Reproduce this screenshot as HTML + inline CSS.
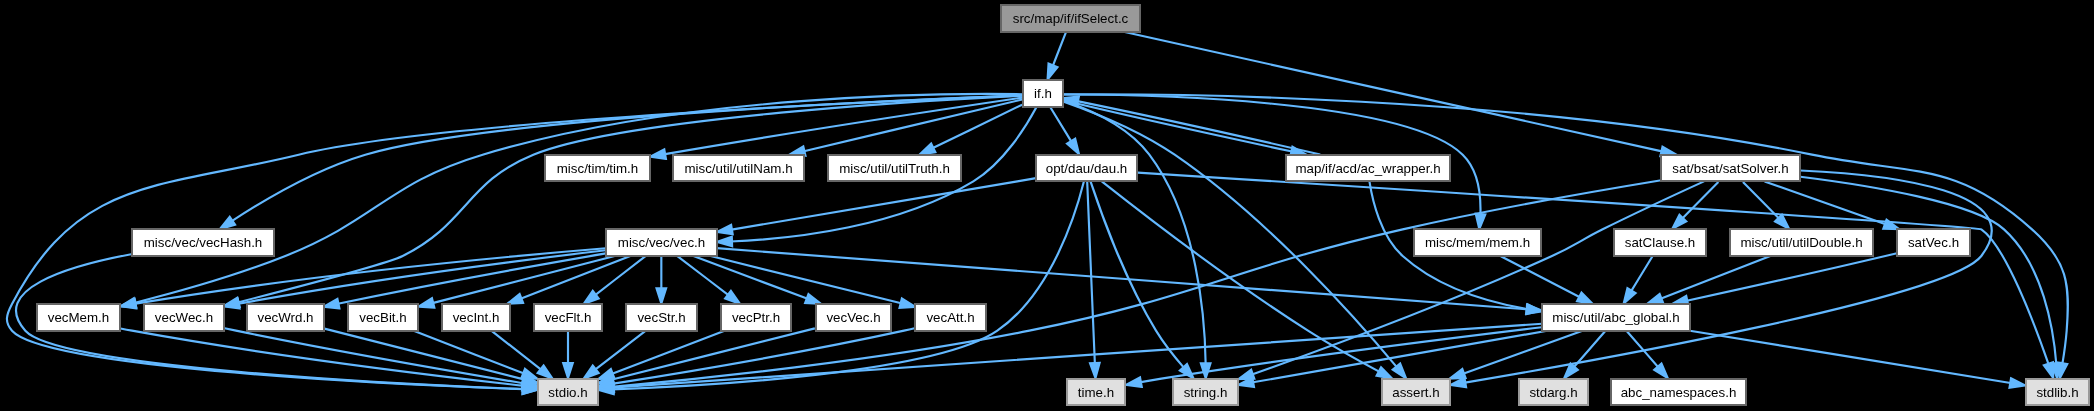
<!DOCTYPE html>
<html><head><meta charset="utf-8"><title>src/map/if/ifSelect.c include dependency graph</title>
<style>
html,body{margin:0;padding:0;background:#000;overflow:hidden}
svg{display:block;will-change:transform}
.e path{fill:none;stroke:#63b8ff;stroke-width:2.15}
.e polygon{fill:#63b8ff;stroke:#63b8ff;stroke-width:2;stroke-linejoin:miter}
.n rect{stroke-width:2;shape-rendering:crispEdges}
.n text{font-family:"Liberation Sans",sans-serif;font-size:13.33px;text-anchor:middle;fill:#000}
</style></head>
<body>
<svg width="2094" height="411" viewBox="0 0 2094 411">
<g class="e">
<path d="M1065.79,32.55C1062.09,42.04 1056.91,55.4 1052.37,67.04"/><polygon points="1057.61,67.09 1047.49,79.6 1048.48,63.53"/>
<path d="M1124.68,32C1244.36,58.6 1531.64,122.44 1663.03,151.64"/><polygon points="1662.47,146.5 1676.37,154.6 1660.34,156.06"/>
<path d="M1022.39,95.44C918.13,99.53 441.91,119.89 298.67,154.67 159.07,188.56 78.72,176.77 12,304 6.49,314.49 4.08,321.85 12,330.67 46.12,368.67 399.69,384.73 524.6,389.25"/><polygon points="522.84,384.28 537.99,389.72 522.49,394.08"/>
<path d="M1063.13,94.4C1152.77,93.65 1519.35,94.57 1812,154.67 1913.15,175.44 1955.17,160.35 2032,229.33 2067.41,261.13 2070.33,283.21 2066.67,330.67 2065.8,341.96 2064.01,354.33 2062.24,364.89"/><polygon points="2067.36,364.1 2059.83,378.32 2057.71,362.36"/>
<path d="M1062.91,100.52C1087.23,108.63 1127.47,125.65 1149.33,154.67 1197.6,218.72 1205.04,318.11 1205.69,364.79"/><polygon points="1210.59,363.13 1205.71,378.47 1200.79,363.13"/>
<path d="M1063.04,101.41C1089.99,110.88 1138.32,129.77 1174.67,154.67 1268.76,219.11 1359.27,321.95 1397.25,367.57"/><polygon points="1400.17,363.41 1406.15,378.37 1392.61,369.64"/>
<path d="M1036.51,107.03C1026.23,126.25 1003.69,163.01 973.33,181.33 898.6,226.44 797.05,238.71 730.39,241.49"/><polygon points="732.19,246.34 716.71,241.96 731.87,236.54"/>
<path d="M1022.31,94.2C948.19,93.03 686.43,93.73 482.67,154.67 388.21,182.91 376.95,219.57 285.33,256 235.05,276 175.52,292.57 133.29,303.19"/><polygon points="136.29,307.51 120.23,306.43 133.94,297.99"/>
<path d="M1022.39,95.61C939.24,99.68 624.6,117.32 533.33,154.67 465.32,182.51 468.4,223.13 402.67,256 387.73,263.47 296.55,287.39 236.73,302.68"/><polygon points="239.82,306.95 223.76,305.99 237.4,297.45"/>
<path d="M1062.83,94.53C1138.6,94.48 1404.91,98.37 1462.67,154.67 1478.69,170.28 1481.17,196.44 1480.36,215.95"/><polygon points="1485.41,214.38 1479.28,229.28 1475.64,213.59"/>
<path d="M1022.37,97.64C967.11,105.8 809.01,129.44 663.63,154.32"/><polygon points="666,158.89 650.05,156.65 664.33,149.23"/>
<path d="M1022.25,99.51C978.07,109.96 872.01,135.08 802.87,151.47"/><polygon points="805.6,155.85 789.56,154.61 803.34,146.31"/>
<path d="M1022.09,104.68C998.81,116 960.43,134.68 931.85,148.57"/><polygon points="935.45,152.28 919.51,154.57 931.16,143.46"/>
<path d="M1050.33,107.21C1056.32,117.01 1064.84,130.93 1072.11,142.84"/><polygon points="1075.28,138.62 1079.09,154.27 1066.92,143.73"/>
<path d="M1022.21,95.37C923.19,99 493.2,116.65 365.33,154.67 314.97,169.64 262.29,201.05 230.99,221.67"/><polygon points="235.16,224.76 219.71,229.24 229.7,216.62"/>
<path d="M1063.07,100.32C1108.45,111.29 1218.52,135.83 1293.31,151.79"/><polygon points="1292.4,146.58 1306.37,154.56 1290.36,156.17"/>
<path d="M716.79,248.19C875.93,260.19 1335.04,294.81 1528.45,309.4"/><polygon points="1526.98,304.38 1541.91,310.41 1526.26,314.15"/>
<path d="M630.32,256.05C600.11,267.79 553.92,285.73 519.95,298.93"/><polygon points="523.19,302.92 507.12,303.91 519.65,293.79"/>
<path d="M645.51,256.21C631.47,267.04 610.72,283.05 594.21,295.79"/><polygon points="598.74,298.48 583.6,303.96 592.75,290.73"/>
<path d="M661.33,256.55C661.33,265.73 661.33,278.53 661.33,289.91"/><polygon points="666.23,288.27 661.33,303.6 656.43,288.27"/>
<path d="M677.4,256.21C691.63,267.04 712.68,283.05 729.41,295.79"/><polygon points="730.94,290.79 740.17,303.96 725.01,298.59"/>
<path d="M693.47,256.05C724.89,267.84 773.04,285.89 808.28,299.11"/><polygon points="808.46,293.93 821.09,303.91 805.02,303.12"/>
<path d="M710.64,256.05C756.91,267.39 828.41,284.99 902.2,303.57"/><polygon points="901.84,298.42 915.51,306.92 899.44,307.92"/>
<path d="M605.91,253.35C543.68,264.04 439.41,282.53 336.64,303.99"/><polygon points="339.49,308.39 323.47,306.75 337.47,298.8"/>
<path d="M614.69,256.05C563.92,269.17 483.08,290.05 431.47,303.39"/><polygon points="434.45,307.69 418.37,306.77 432,298.19"/>
<path d="M605.81,248.29C511.47,256.04 313.65,274.13 133.96,303.88"/><polygon points="136.44,308.43 120.51,306.13 134.81,298.77"/>
<path d="M605.69,250.29C526.68,259.56 377.2,278.36 236.8,304.04"/><polygon points="239.65,308.51 223.68,306.47 237.86,298.86"/>
<path d="M1541.89,323.76C1338,337.76 773.13,376.57 611.64,387.67"/><polygon points="613.79,392.43 598.15,388.6 613.11,382.66"/>
<path d="M1689.87,330.72C1781.81,345.72 1935.97,370.87 2012.05,383.28"/><polygon points="2010.97,378.14 2025.32,385.44 2009.4,387.82"/>
<path d="M1547.27,330.72C1463.35,345.43 1323.73,369.91 1251.61,382.55"/><polygon points="1254.08,387.1 1238.13,384.92 1252.38,377.44"/>
<path d="M1582.52,330.72C1549.64,342.56 1499.2,360.72 1462.45,373.95"/><polygon points="1465.67,378 1449.59,378.57 1462.35,368.77"/>
<path d="M1541.81,327.29C1451.67,338.04 1295.04,357.57 1161.33,378.67 1154.25,379.79 1146.76,381.07 1139.47,382.36"/><polygon points="1141.84,386.91 1125.87,384.85 1140.07,377.28"/>
<path d="M1605.08,331.21C1596.28,341.32 1583.67,355.83 1573.09,367.97"/><polygon points="1577.89,369.93 1564.12,378.27 1570.5,363.49"/>
<path d="M1626.92,331.21C1635.72,341.32 1648.35,355.83 1658.91,367.97"/><polygon points="1661.5,363.49 1667.88,378.27 1654.11,369.93"/>
<path d="M491.61,330.88C505.31,341.6 525.51,357.41 541.69,370.08"/><polygon points="543.57,365.33 552.63,378.63 537.53,373.05"/>
<path d="M568,331.21C568,340.4 568,353.2 568,364.57"/><polygon points="572.9,362.93 568,378.27 563.1,362.93"/>
<path d="M645.51,330.88C631.47,341.71 610.72,357.72 594.21,370.45"/><polygon points="598.74,373.15 583.6,378.63 592.75,365.4"/>
<path d="M724.53,330.72C693.39,342.64 645.49,360.99 610.88,374.24"/><polygon points="614.39,378.14 598.32,379.05 610.89,369"/>
<path d="M814.85,328.37C761.84,341.75 666.64,365.77 611.24,379.76"/><polygon points="614.13,384.08 598.07,383.08 611.74,374.58"/>
<path d="M915.57,327.99C911.68,328.93 907.76,329.85 904,330.67 799.84,353.32 676.15,373.77 611.81,383.92"/><polygon points="614.17,388.51 598.27,386.04 612.66,378.83"/>
<path d="M323.45,328.37C375.83,341.72 469.79,365.65 524.73,379.64"/><polygon points="524.16,374.44 537.81,382.97 521.74,383.95"/>
<path d="M413.69,330.72C444.07,342.52 490.64,360.61 524.68,373.84"/><polygon points="524.98,368.7 537.49,378.81 521.42,377.83"/>
<path d="M120.52,328.44C124.4,329.23 128.27,329.99 132,330.67 274.63,356.48 445.28,376.99 524.11,385.87"/><polygon points="523.04,380.83 537.73,387.4 521.95,390.56"/>
<path d="M223.71,328.04C227.85,328.95 232.01,329.84 236,330.67 338.95,351.84 460.68,372.8 524.29,383.45"/><polygon points="523.37,378.33 537.69,385.69 521.76,388.01"/>
<path d="M1500.85,256.21C1522.8,267.61 1555.83,284.76 1580.89,297.77"/><polygon points="1581.48,292.55 1592.83,303.96 1576.96,301.25"/>
<path d="M1083.88,181.56C1076.17,212.4 1051.43,293.49 997.33,330.67 935.39,373.23 708.73,385.91 612.11,389.41"/><polygon points="613.79,394.26 598.29,389.88 613.46,384.47"/>
<path d="M1137.71,172.59C1326.81,184.65 1976.93,226.33 1981.33,229.33 2005.24,245.64 2034.76,324.17 2048.95,365.35"/><polygon points="2053.02,362.1 2053.29,378.2 2043.74,365.23"/>
<path d="M1090.61,181.64C1099.81,209.41 1124.29,278.59 1156,330.67 1164.12,344 1174.99,357.55 1184.45,368.39"/><polygon points="1187.02,363.91 1193.64,378.57 1179.74,370.47"/>
<path d="M1101.77,181.35C1136.95,209.11 1227.45,279.21 1308,330.67 1331.57,345.72 1359.16,361.01 1380.55,372.39"/><polygon points="1381.06,367.11 1392.35,378.6 1376.49,375.79"/>
<path d="M1035.93,178.15C1029.67,179.23 1023.36,180.31 1017.33,181.33 917.51,198.39 801.87,217.81 730.15,229.83"/><polygon points="732.77,234.35 716.84,232.05 731.16,224.69"/>
<path d="M1087.2,181.87C1088.68,217.03 1092.89,317.08 1094.91,364.77"/><polygon points="1099.72,362.74 1095.48,378.27 1089.94,363.16"/>
<path d="M131.13,254.19C67.17,266.17 -11.24,289.83 25.33,330.67 58.48,367.68 401.44,384.32 524.41,389.12"/><polygon points="522.82,384.16 537.96,389.64 522.45,393.94"/>
<path d="M1320.29,154.57C1253.51,139.08 1134.23,112.8 1076.08,100.88"/><polygon points="1077.06,106.08 1063,98.24 1078.99,96.47"/>
<path d="M1369.52,181.93C1372.47,200.8 1380.73,236.28 1402.67,256 1437.01,286.87 1486.04,301.99 1528.43,309.32"/><polygon points="1527.55,304.23 1541.93,311.45 1526.03,313.91"/>
<path d="M1661.21,180.29C1594.59,191.23 1491.31,209.24 1402.67,229.33 1235,267.36 1197.93,296.99 1029.33,330.67 877.67,360.97 694.75,379.51 612.21,386.93"/><polygon points="614.17,391.68 598.47,388.15 613.3,381.91"/>
<path d="M1800.39,176.76C1871.2,185.64 1974.51,202.73 2004,229.33 2043.11,264.6 2053.61,329.12 2056.39,364.96"/><polygon points="2061.17,362.8 2057.16,378.39 2051.39,363.36"/>
<path d="M1704.03,181.39C1678.01,193.27 1637.39,212.07 1602.67,229.33 1579.88,240.67 1575.16,245.45 1552,256 1446.47,304.08 1318.36,350.99 1251.31,374.69"/><polygon points="1254.44,378.8 1238.35,379.27 1251.18,369.54"/>
<path d="M1800.2,170.45C1890.55,174.48 2031.23,190.97 1981.33,256 1949.29,297.75 1593.95,360.91 1463.59,382.84"/><polygon points="1466.18,387.37 1450.25,385.07 1464.57,377.71"/>
<path d="M1764.59,181.39C1797.91,193.23 1849.03,211.39 1886.27,224.61"/><polygon points="1886.5,219.5 1899.31,229.24 1883.21,228.72"/>
<path d="M1718.36,181.88C1708.23,192.2 1693.61,207.08 1681.55,219.37"/><polygon points="1686.41,221.43 1672.17,228.93 1679.41,214.56"/>
<path d="M1742.97,181.88C1753.11,192.2 1767.72,207.08 1779.79,219.37"/><polygon points="1781.92,214.56 1789.17,228.93 1774.92,221.43"/>
<path d="M1897.19,253.15C1893.2,254.12 1889.19,255.09 1885.33,256 1817.64,272 1740.09,289.15 1685.65,301"/><polygon points="1688.35,305.43 1672.32,303.89 1686.27,295.85"/>
<path d="M1652.33,256.55C1646.35,266.35 1637.84,280.27 1630.56,292.17"/><polygon points="1635.75,293.07 1623.57,303.6 1627.39,287.96"/>
<path d="M1770.32,256.05C1740.11,267.79 1693.92,285.73 1659.95,298.93"/><polygon points="1663.19,302.92 1647.12,303.91 1659.65,293.79"/>
</g>
<g class="n">
<rect x="1001" y="5" width="139" height="27" fill="#999" stroke="#666666"/><text x="1070.5" y="22.5">src/map/if/ifSelect.c</text>
<rect x="1023" y="80" width="40" height="27" fill="#fff" stroke="#666666"/><text x="1043" y="97.5">if.h</text>
<rect x="1661" y="155" width="139" height="26" fill="#fff" stroke="#666666"/><text x="1730.5" y="172.5">sat/bsat/satSolver.h</text>
<rect x="538" y="379" width="60" height="26" fill="#e0e0e0" stroke="#999999"/><text x="568" y="396.5">stdio.h</text>
<rect x="2026" y="379" width="63" height="26" fill="#e0e0e0" stroke="#999999"/><text x="2057.5" y="396.5">stdlib.h</text>
<rect x="1173" y="379" width="65" height="26" fill="#e0e0e0" stroke="#999999"/><text x="1205.5" y="396.5">string.h</text>
<rect x="1382" y="379" width="68" height="26" fill="#e0e0e0" stroke="#999999"/><text x="1416" y="396.5">assert.h</text>
<rect x="606" y="229" width="111" height="27" fill="#fff" stroke="#666666"/><text x="661.5" y="246.5">misc/vec/vec.h</text>
<rect x="37" y="304" width="83" height="27" fill="#fff" stroke="#666666"/><text x="78.5" y="321.5">vecMem.h</text>
<rect x="144" y="304" width="80" height="27" fill="#fff" stroke="#666666"/><text x="184" y="321.5">vecWec.h</text>
<rect x="1414" y="229" width="127" height="27" fill="#fff" stroke="#666666"/><text x="1477.5" y="246.5">misc/mem/mem.h</text>
<rect x="545" y="155" width="105" height="26" fill="#fff" stroke="#666666"/><text x="597.5" y="172.5">misc/tim/tim.h</text>
<rect x="673" y="155" width="131" height="26" fill="#fff" stroke="#666666"/><text x="738.5" y="172.5">misc/util/utilNam.h</text>
<rect x="828" y="155" width="133" height="26" fill="#fff" stroke="#666666"/><text x="894.5" y="172.5">misc/util/utilTruth.h</text>
<rect x="1036" y="155" width="101" height="26" fill="#fff" stroke="#666666"/><text x="1086.5" y="172.5">opt/dau/dau.h</text>
<rect x="132" y="229" width="142" height="27" fill="#fff" stroke="#666666"/><text x="203" y="246.5">misc/vec/vecHash.h</text>
<rect x="1286" y="155" width="164" height="26" fill="#fff" stroke="#666666"/><text x="1368" y="172.5">map/if/acd/ac_wrapper.h</text>
<rect x="1542" y="304" width="148" height="27" fill="#fff" stroke="#666666"/><text x="1616" y="321.5">misc/util/abc_global.h</text>
<rect x="442" y="304" width="68" height="27" fill="#fff" stroke="#666666"/><text x="476" y="321.5">vecInt.h</text>
<rect x="534" y="304" width="68" height="27" fill="#fff" stroke="#666666"/><text x="568" y="321.5">vecFlt.h</text>
<rect x="626" y="304" width="71" height="27" fill="#fff" stroke="#666666"/><text x="661.5" y="321.5">vecStr.h</text>
<rect x="721" y="304" width="70" height="27" fill="#fff" stroke="#666666"/><text x="756" y="321.5">vecPtr.h</text>
<rect x="816" y="304" width="75" height="27" fill="#fff" stroke="#666666"/><text x="853.5" y="321.5">vecVec.h</text>
<rect x="915" y="304" width="71" height="27" fill="#fff" stroke="#666666"/><text x="950.5" y="321.5">vecAtt.h</text>
<rect x="247" y="304" width="77" height="27" fill="#fff" stroke="#666666"/><text x="285.5" y="321.5">vecWrd.h</text>
<rect x="348" y="304" width="70" height="27" fill="#fff" stroke="#666666"/><text x="383" y="321.5">vecBit.h</text>
<rect x="1067" y="379" width="58" height="26" fill="#e0e0e0" stroke="#999999"/><text x="1096" y="396.5">time.h</text>
<rect x="1519" y="379" width="69" height="26" fill="#e0e0e0" stroke="#999999"/><text x="1553.5" y="396.5">stdarg.h</text>
<rect x="1611" y="379" width="135" height="26" fill="#fff" stroke="#666666"/><text x="1678.5" y="396.5">abc_namespaces.h</text>
<rect x="1897" y="229" width="73" height="27" fill="#fff" stroke="#666666"/><text x="1933.5" y="246.5">satVec.h</text>
<rect x="1614" y="229" width="92" height="27" fill="#fff" stroke="#666666"/><text x="1660" y="246.5">satClause.h</text>
<rect x="1730" y="229" width="143" height="27" fill="#fff" stroke="#666666"/><text x="1801.5" y="246.5">misc/util/utilDouble.h</text>
</g>
</svg>
</body></html>
